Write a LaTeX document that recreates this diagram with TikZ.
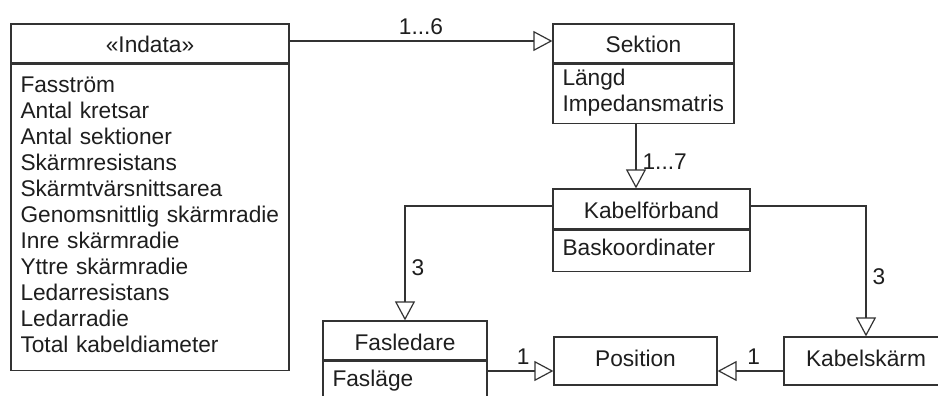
\documentclass[tikz,border=0pt]{standalone}
\usepackage{fontspec}
\setmainfont{Liberation Sans}
\usetikzlibrary{shapes, arrows.meta, positioning}
\definecolor{umlline}{HTML}{333333}
\definecolor{umltext}{HTML}{1E1E1E}
\tikzstyle{classhead} = [rectangle, draw=umlline, text=umltext, line width=1.2pt, inner sep=0pt, minimum height=39pt, text height=19pt, text depth=0pt, text centered]
\tikzstyle{classbody} = [rectangle, draw=umlline, text=umltext, line width=1.2pt, inner xsep=9.5pt, inner ysep=0pt, align=left, execute at begin node=\strut, execute at end node=\strut]
\tikzstyle{classbox} = [rectangle, draw=umlline, text=umltext, line width=1.2pt, inner sep=0pt, minimum height=48pt, text height=10pt, text depth=0pt, text centered]
\tikzstyle{arrow} = [draw=umlline, line width=1.2pt, -{Triangle[open, length=19pt, width=20pt]}]
\tikzstyle{mult} = [text=umltext, inner sep=6pt]

\begin{document}
\begin{tikzpicture}[x=1pt, y=-1pt, font=\fontsize{22.7pt}{26pt}\selectfont]
	\useasboundingbox (0,0) rectangle (938,396);
	\node (indata) [classhead, minimum width=278pt] at (150,43.5) {«Indata»};
		\node (indataAttr) [classbody, text width=259pt, minimum height=306pt, below=0pt of indata] {Fasström\\Antal kretsar\\Antal sektioner\\Skärmresistans\\Skärmtvärsnittsarea\\Genomsnittlig skärmradie\\Inre skärmradie\\Yttre skärmradie\\Ledarresistans\\Ledarradie\\Total kabeldiameter};
	\node (sektion) [classhead, minimum width=181pt] at (643.5,43.5) {Sektion};
		\node (sektionAttr) [classbody, text width=162pt, minimum height=59pt, below=0pt of sektion] {Längd\\Impedansmatris};
	\node (kabelforband) [classhead, minimum width=197pt, minimum height=40pt] at (651.5,209) {Kabelförband};
		\node (kabelforbandAttr) [classbody, text width=178pt, minimum height=41pt, below=0pt of kabelforband] {Baskoordinater};
	\node (fasledare) [classhead, minimum width=164pt] at (405,340.5) {Fasledare};
		\node (fasledareAttr) [classbody, text width=145pt, minimum height=41pt, below=0pt of fasledare] {Fasläge};
	\node (position) [classbox, minimum width=163pt] at (635.5,361) {Position};
	\node (kabelskarm) [classbox, minimum width=164pt] at (866,361) {Kabelskärm};
	\coordinate (k7) at ([xshift=-15.5pt]kabelforband.north);
	\draw [arrow] ([yshift=2.5pt]sektion.west -| indata.east) -- ([yshift=2.5pt]sektion.west) node [mult, midway, above] {1...6};
	\draw [arrow] (k7 |- sektionAttr.south) -- (k7) node [mult, pos=0.58, right] {1...7};
	\draw [arrow] ([yshift=3pt]kabelforband.west) -| (fasledare.north) node [mult, pos=0.77, right] {3};
	\draw [arrow] ([yshift=3pt]kabelforband.east) -| (kabelskarm.north) node [mult, pos=0.77, right] {3};
	\draw [arrow] ([yshift=-10pt]position.west -| fasledare.east) -- ([yshift=-10pt]position.west) node [mult, pos=0.54, above] {1};
	\draw [arrow] ([yshift=-10pt]kabelskarm.west) -- ([yshift=-10pt]position.east) node [mult, pos=0.45, above] {1};
\end{tikzpicture}
\end{document}
